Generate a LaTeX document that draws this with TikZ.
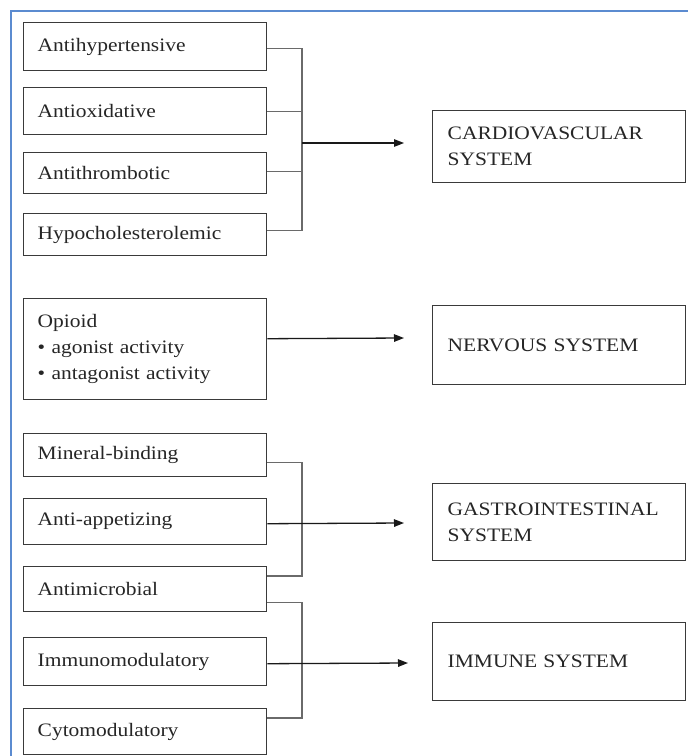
\documentclass[tikz,border=0pt]{standalone}
\usepackage{fontspec}
\setmainfont{Liberation Serif}[FakeStretch=1.13]
\usetikzlibrary{arrows.meta,calc}
\definecolor{boxc}{HTML}{3A3A3A}
\definecolor{connc}{HTML}{6A6A6A}
\definecolor{framec}{HTML}{5B8BD0}
\begin{document}
\begin{tikzpicture}[x=1pt,y=-1pt,
  txt/.style={font=\fontsize{19}{26}\selectfont, text=black!85},
  lbox/.style={txt, draw=boxc, line width=1.4pt, text width=215pt, inner xsep=14pt, inner ysep=0pt, align=left, anchor=north west},
  rbox/.style={txt, draw=boxc, line width=1.4pt, text width=223pt, inner xsep=15pt, inner ysep=0pt, align=left, anchor=north west},
  conn/.style={draw=connc, line width=1.3pt},
  arr/.style={draw=black!90, line width=1.3pt, -{Triangle[length=10pt,width=7.5pt]}}]
\useasboundingbox (0,0) rectangle (688,756);
\fill[white] (0,0) rectangle (688,756);
% blue frame
\draw[framec, line width=2pt] (11,757) -- (11,10.5) -- (689,10.5);

% left boxes, cardiovascular group
\node[lbox, minimum height=48pt] (ah) at (23,22) {Antihypertensive};
\node[lbox, minimum height=47pt] (ao) at (23,87) {Antioxidative};
\node[lbox, minimum height=41pt] (at) at (23,152) {Antithrombotic};
\node[lbox, minimum height=42pt] (hc) at (23,213) {Hypocholesterolemic};

% opioid
\node[lbox, minimum height=101pt] (op) at (23,298) {Opioid\\ \textbullet\ agonist activity\\ \textbullet\ antagonist activity};

% lower left boxes
\node[lbox, minimum height=43pt] (mb) at (23,433) {Mineral-binding};
\node[lbox, minimum height=46pt] (aa) at (23,498) {Anti-appetizing};
\node[lbox, minimum height=45pt] (am) at (23,566) {Antimicrobial};
\node[lbox, minimum height=48pt] (im) at (23,637) {Immunomodulatory};
\node[lbox, minimum height=46pt] (cy) at (23,708) {Cytomodulatory};

% right boxes
\node[rbox, minimum height=72pt] (cv) at (432,110) {CARDIOVASCULAR\\SYSTEM};
\node[rbox, minimum height=79pt] (ns) at (432,305) {NERVOUS SYSTEM};
\node[rbox, minimum height=77pt] (gi) at (432,483) {GASTROINTESTINAL\\SYSTEM};
\node[rbox, minimum height=78pt] (is) at (432,622) {IMMUNE SYSTEM};

% trunks
\coordinate (t) at (302,0);
\coordinate (c1) at (302,143);
\coordinate (e1) at (404,143);
\coordinate (e2) at (404,338);
\coordinate (e3) at (404,523);
\coordinate (e4) at (408,663);

% cardiovascular connectors
\draw[conn] ($(ah.east)+(0,1.5)$) -| ($(t |- hc.east)+(0,-4)$) -- ($(hc.east)+(0,-4)$);
\draw[conn] (ao.east) -- (ao.east -| t);
\draw[conn] ($(at.east)+(0,-2)$) -- ($(at.east -| t)+(0,-2)$);
\draw[arr] (c1) -- (e1);

% nervous
\draw[arr] ($(op.east)+(0,-10.5)$) -- (e2);

% gastrointestinal
\draw[conn] ($(mb.east)+(0,7.5)$) -| ($(t |- am.north)+(0,10)$) -- ($(am.north east)+(0,10)$);
\draw[arr] ($(aa.east)+(0,2)$) -- (e3);

% immune
\draw[conn] ($(am.east)+(0,13.5)$) -| ($(t |- cy.north)+(0,10)$) -- ($(cy.north east)+(0,10)$);
\draw[arr] ($(im.east)+(0,2)$) -- (e4);
\end{tikzpicture}
\end{document}
